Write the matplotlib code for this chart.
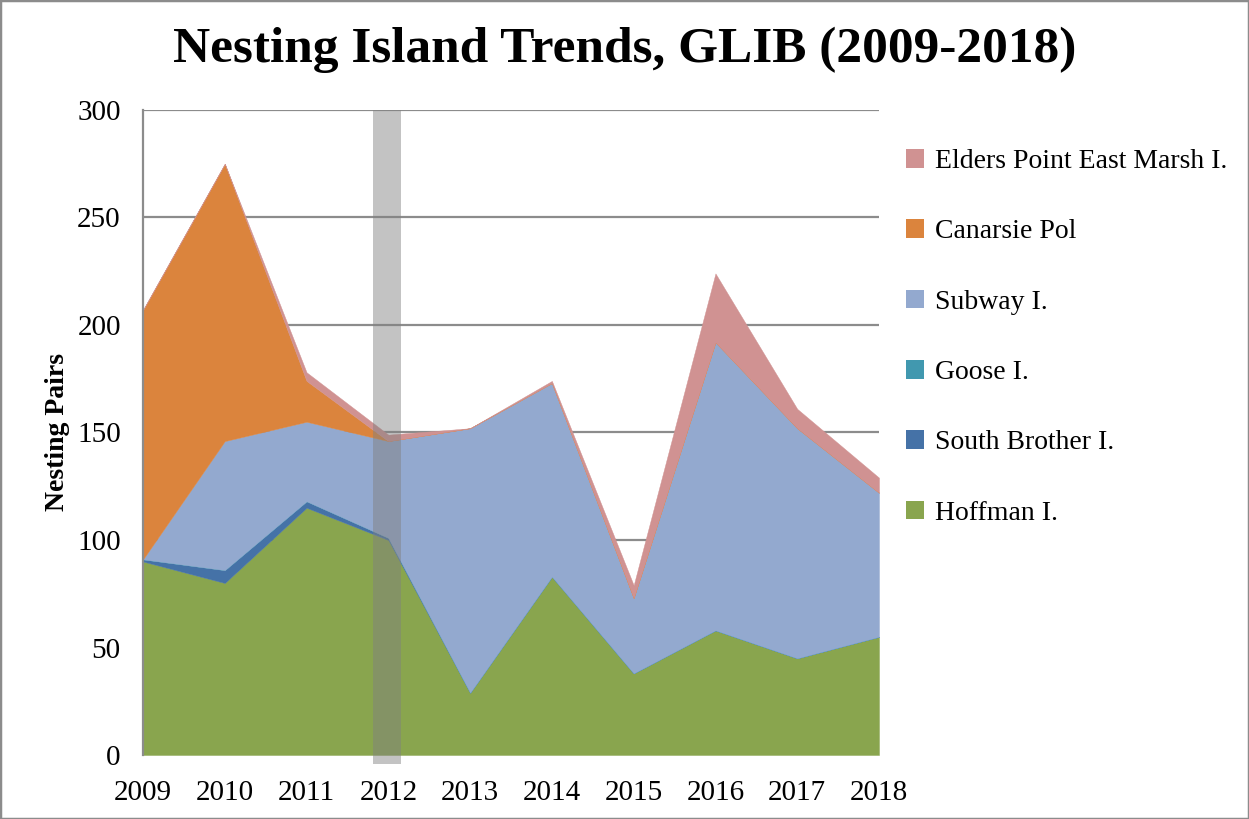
import matplotlib
matplotlib.use("Agg")
import matplotlib.pyplot as plt
from matplotlib.patches import Rectangle, Patch

years = [2009, 2010, 2011, 2012, 2013, 2014, 2015, 2016, 2017, 2018]
hoffman = [90, 80, 115, 100, 29, 83, 38, 58, 45, 55]
south_brother = [1, 6, 3, 1, 0, 0, 0, 0, 0, 0]
goose = [0, 0, 0, 0, 0, 0, 0, 0, 0, 0]
subway = [0, 60, 37, 45, 123, 90, 35, 134, 107, 67]
canarsie = [116, 129, 19, 0, 0, 0, 0, 0, 0, 0]
elders = [0, 0, 4, 3, 0, 1, 6, 32, 9, 7]

series_names = ["Hoffman I.", "South Brother I.", "Goose I.", "Subway I.",
                "Canarsie Pol", "Elders Point East Marsh I."]
colors = ["#89a54e", "#4572a7", "#4198af", "#93a9cf", "#db843d", "#d09292"]
yticks = [0, 50, 100, 150, 200, 250, 300]

fig = plt.figure(figsize=(12.49, 8.19), dpi=100)
ax = fig.add_axes([143/1249, 1-755/819, (879-143)/1249, (755-110)/819])

ax.stackplot(years, hoffman, south_brother, goose, subway, canarsie, elders,
             colors=colors, linewidth=0.3, edgecolor="face", zorder=2)

ax.set_xlim(years[0], years[-1])
ax.set_ylim(0, 300)
ax.set_yticks(yticks)
ax.set_xticks(years)
ax.yaxis.grid(True, color="#8c8c8c", linewidth=1.6, zorder=1)
ax.set_axisbelow(True)
for s in ["top", "right", "bottom"]:
    ax.spines[s].set_visible(False)
ax.spines["left"].set_color("#8c8c8c")
ax.spines["left"].set_linewidth(1.6)
ax.tick_params(length=0, labelsize=21, pad=16)
ax.tick_params(axis="x", pad=18)
for lab in ax.get_xticklabels() + ax.get_yticklabels():
    lab.set_fontfamily("Liberation Serif")

# highlight bar around 2012
bar = Rectangle((2011.81, -4), 0.34, 304, facecolor="#808080", alpha=0.47,
                edgecolor="none", clip_on=False, zorder=5)
ax.add_patch(bar)

ax.set_ylabel("Nesting Pairs", fontsize=20, fontweight="bold",
              fontfamily="Liberation Serif", labelpad=5)

fig.text(0.5, 1-50/819, "Nesting Island Trends, GLIB (2009-2018)", fontsize=37,
         fontweight="bold", fontfamily="Liberation Serif", ha="center", va="center")

handles = [Patch(facecolor=c, edgecolor="none") for c in colors][::-1]
labels = series_names[::-1]
leg = fig.legend(handles, labels, loc="upper left",
                 bbox_to_anchor=(895/1249, 1-138/819), frameon=False,
                 prop={"family": "Liberation Serif", "size": 20},
                 handlelength=0.65, handleheight=0.65, handletextpad=0.4,
                 labelspacing=1.63, borderaxespad=0)

fig.patches.append(Rectangle((0, 0), 1, 1, transform=fig.transFigure,
                             fill=False, edgecolor="#8c8c8c", linewidth=2.5))

fig.savefig("out.png", dpi=100)
